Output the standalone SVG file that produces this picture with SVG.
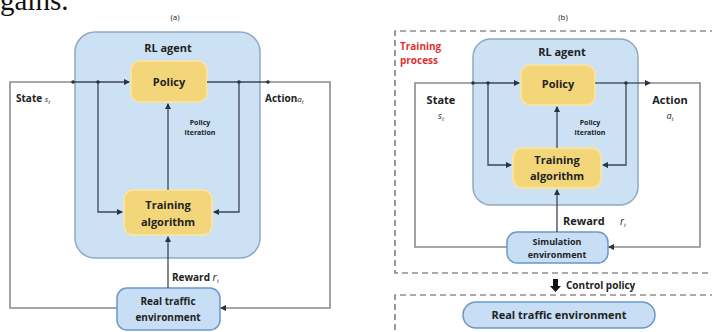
<svg xmlns="http://www.w3.org/2000/svg" width="712" height="332" viewBox="0 0 712 332">
<defs>
<style>
.t{font-family:"Open Sans","Liberation Sans",sans-serif;font-weight:bold;fill:#222;text-anchor:middle}
.s{font-size:8px}
.m{font-size:10px}
.l{font-size:11px}
.agent{fill:#cde1f4;stroke:#8fa9c4;stroke-width:1.5}
.yel{fill:#f3d67a;stroke:#f7e3a6;stroke-width:2}
.env{fill:#c8def4;stroke:#6a97c6;stroke-width:1.5}
.ln{fill:none;stroke:#3d4654;stroke-width:1.3}
.lp{fill:none;stroke:#8a8a8a;stroke-width:1.6}
.dash{fill:none;stroke:#555;stroke-width:1.2;stroke-dasharray:6 4}
.dot{fill:#2a3340}
</style>
<marker id="ah" viewBox="0 0 6 6" refX="5" refY="3" markerWidth="5" markerHeight="5" orient="auto">
<path d="M0,0 L6,3 L0,6 z" fill="#2a3340"/>
</marker>
</defs>
<rect width="712" height="332" fill="#fff"/>
<text x="0" y="10" font-family="Liberation Serif,serif" font-size="29" fill="#111">gains.</text>

<!-- Panel (a) -->
<text class="t s" x="175" y="20" style="font-weight:normal" fill="#555">(a)</text>
<g id="a-agent">
<rect class="agent" x="75" y="32" width="185" height="226" rx="20"/>
<text class="t l" x="168" y="52">RL agent</text>
</g>
<g id="a-policy">
<rect class="yel" x="131" y="61" width="76" height="41" rx="9"/>
<text class="t l" x="169" y="86">Policy</text>
</g>
<g id="a-training">
<rect class="yel" x="124" y="190" width="88" height="45" rx="9"/>
<text class="t l" x="168" y="209">Training</text>
<text class="t l" x="168" y="226">algorithm</text>
</g>
<g id="a-env">
<rect class="env" x="117" y="288" width="103" height="42" rx="10"/>
<text class="t m" x="168" y="305">Real traffic</text>
<text class="t m" x="168" y="321">environment</text>
</g>
<g id="a-connectors">
<path class="lp" d="M117,308 H10 V82 H73"/>
<path class="ln" d="M73,82 H129" marker-end="url(#ah)"/>
<path class="ln" d="M207,82 H268"/>
<path class="lp" d="M268,82 H330 V308 H222"/>
<path class="ln" d="M226,308 H221" marker-end="url(#ah)"/>
<path class="ln" d="M98,82 V212 H122" marker-end="url(#ah)"/>
<path class="ln" d="M239,82 V212 H214" marker-end="url(#ah)"/>
<path class="ln" d="M168,190 V104" marker-end="url(#ah)"/>
<path class="ln" d="M168,288 V237" marker-end="url(#ah)"/>
<circle class="dot" cx="73" cy="82" r="1.8"/>
<circle class="dot" cx="98" cy="82" r="1.8"/>
<circle class="dot" cx="239" cy="82" r="1.8"/>
<circle class="dot" cx="268" cy="82" r="1.8"/>
</g>
<text class="t m" x="16" y="102" text-anchor="start" style="text-anchor:start">State <tspan font-style="italic" font-weight="normal" font-size="8">s<tspan font-size="6" dy="2">t</tspan></tspan></text>
<text class="t m" x="265" y="102" style="text-anchor:start">Action<tspan font-style="italic" font-weight="normal" font-size="8">a<tspan font-size="6" dy="2">t</tspan></tspan></text>
<text class="t s" x="200" y="125" style="font-size:7px">Policy</text>
<text class="t s" x="200" y="135" style="font-size:7px">iteration</text>
<text class="t m" x="172" y="281" style="text-anchor:start">Reward <tspan font-style="italic" font-weight="normal" font-size="11">r<tspan font-size="6" dy="2">t</tspan></tspan></text>

<!-- Panel (b) -->
<text class="t s" x="563" y="20" style="font-weight:normal" fill="#555">(b)</text>
<g id="b-training-process">
<path class="dash" d="M716,31 H395 V273 H716"/>
<text class="t m" x="400" y="50" fill="#e03030" style="text-anchor:start;fill:#e03030">Training</text>
<text class="t m" x="400" y="64" style="text-anchor:start;fill:#e03030">process</text>
</g>
<g id="b-agent">
<rect class="agent" x="473" y="39" width="165" height="166" rx="18"/>
<text class="t l" x="562" y="56">RL agent</text>
</g>
<g id="b-policy">
<rect class="yel" x="521" y="65" width="74" height="40" rx="9"/>
<text class="t l" x="558" y="88">Policy</text>
</g>
<g id="b-training">
<rect class="yel" x="513" y="148" width="88" height="40" rx="9"/>
<text class="t l" x="557" y="164">Training</text>
<text class="t l" x="557" y="180">algorithm</text>
</g>
<g id="b-sim">
<rect class="env" x="507" y="232" width="101" height="31" rx="10"/>
<text class="t s" x="557" y="245" style="font-size:9px">Simulation</text>
<text class="t s" x="557" y="258" style="font-size:9px">environment</text>
</g>
<g id="b-connectors">
<path class="lp" d="M507,247 H415 V83 H473"/>
<path class="ln" d="M473,83 H519" marker-end="url(#ah)"/>
<path class="ln" d="M595,83 H626"/>
<path class="ln" d="M626,83 H650" marker-end="url(#ah)"/>
<path class="lp" d="M650,83 H700 V247 H610"/>
<path class="ln" d="M614,247 H609" marker-end="url(#ah)"/>
<path class="ln" d="M488,83 V165 H511" marker-end="url(#ah)"/>
<path class="ln" d="M626,83 V165 H603" marker-end="url(#ah)"/>
<path class="ln" d="M557,148 V107" marker-end="url(#ah)"/>
<path class="ln" d="M557,232 V190" marker-end="url(#ah)"/>
<circle class="dot" cx="473" cy="83" r="1.8"/>
<circle class="dot" cx="488" cy="83" r="1.8"/>
<circle class="dot" cx="626" cy="83" r="1.8"/>
</g>
<text class="t l" x="441" y="104">State</text>
<text class="t" x="441" y="119" style="font-size:9px;font-style:italic;font-weight:normal">s<tspan font-size="6" dy="2">t</tspan></text>
<text class="t l" x="670" y="104">Action</text>
<text class="t" x="670" y="119" style="font-size:9px;font-style:italic;font-weight:normal">a<tspan font-size="6" dy="2">t</tspan></text>
<text class="t" x="590" y="125" style="font-size:7px">Policy</text>
<text class="t" x="590" y="135" style="font-size:7px">iteration</text>
<text class="t m" x="563" y="225" style="text-anchor:start;font-size:11px">Reward</text>
<text class="t" x="623" y="225" style="font-size:10px;font-style:italic;font-weight:normal">r<tspan font-size="6" dy="2">t</tspan></text>
<g id="b-control">
<path d="M553,279 H558 V286 H561 L555.5,292 L550,286 H553 Z" fill="#111"/>
<text class="t m" x="566" y="289" style="text-anchor:start">Control policy</text>
</g>
<g id="b-real">
<path class="dash" d="M716,295 H395 V336"/>
<rect class="env" x="463" y="302" width="192" height="26" rx="13"/>
<text class="t l" x="559" y="319">Real traffic environment</text>
</g>
</svg>
